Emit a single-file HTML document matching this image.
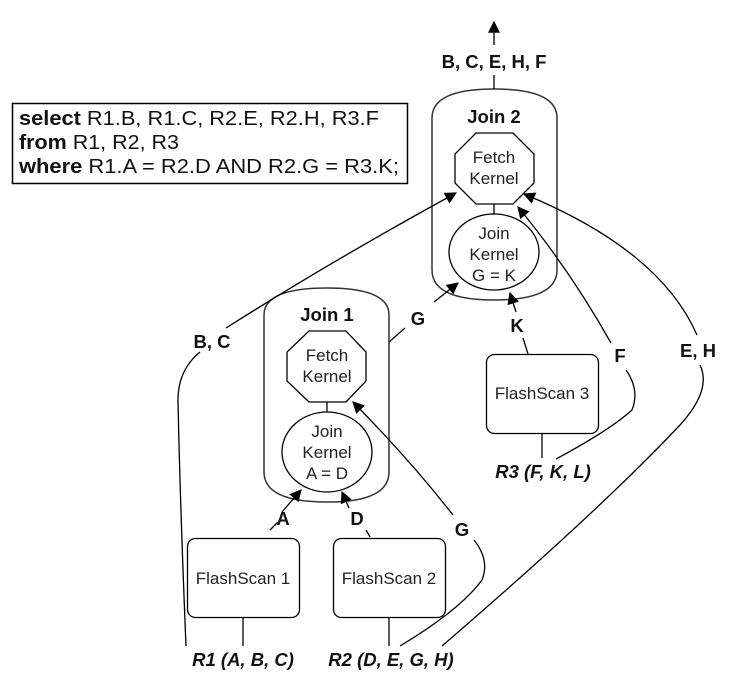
<!DOCTYPE html>
<html><head><meta charset="utf-8"><style>
html,body{margin:0;padding:0;background:#fff;}
svg{display:block;font-family:"Liberation Sans",Arial,sans-serif;}
.n{font-size:17px;fill:#222;text-anchor:middle;}
.b{font-size:18.5px;font-weight:bold;fill:#111;text-anchor:middle;}
.bi{font-size:18.5px;font-weight:bold;font-style:italic;fill:#111;text-anchor:middle;}
</style></head><body>
<svg width="734" height="673" viewBox="0 0 734 673" xmlns="http://www.w3.org/2000/svg">
<defs>
<marker id="A" viewBox="0 0 10 10" refX="9" refY="5" markerWidth="14" markerHeight="12" orient="auto" markerUnits="userSpaceOnUse"><path d="M0,0 L10,5 L0,10 z" fill="#000"/></marker></defs>
<g fill="none" stroke="#000" stroke-width="1.3">
<rect x="12.5" y="103.5" width="395" height="80" stroke-width="1.5"/>
<path d="M432,270 L432,118 Q432,89 494,89 Q557,89 557,118 L557,270 Q557,300 494,300 Q432,300 432,270 Z" stroke="#333" stroke-width="1.5"/>
<polygon points="476,133 513,133 534,154 534,183 513,204 476,204 455,183 455,154"/>
<line x1="494" y1="204" x2="494" y2="214"/>
<ellipse cx="494" cy="252" rx="45" ry="38"/>
<line x1="494" y1="89" x2="494" y2="75"/>
<line x1="494" y1="45" x2="494" y2="22" marker-end="url(#A)"/>
<path d="M264,315 Q264,288 327,288 Q389,288 389,315 L389,472 Q389,502 327,502 Q264,502 264,472 Z" stroke="#333" stroke-width="1.5"/>
<polygon points="309,331 346,331 366,352 366,381 346,402 309,402 287,381 287,352"/>
<line x1="327" y1="402" x2="327" y2="412"/>
<ellipse cx="327" cy="452" rx="45" ry="40"/>
<rect x="187.5" y="538.5" width="112" height="79" rx="8"/>
<rect x="333.5" y="538.5" width="112" height="79" rx="8"/>
<rect x="486.5" y="354.5" width="112" height="79" rx="8"/>
<line x1="243" y1="617" x2="243" y2="646"/>
<line x1="389" y1="617" x2="389" y2="646"/>
<line x1="542" y1="433" x2="542" y2="458"/>
<line x1="270" y1="530" x2="278" y2="522"/>
<line x1="282" y1="512" x2="301" y2="490" marker-end="url(#A)"/>
<line x1="366" y1="530" x2="370" y2="537"/>
<line x1="349" y1="508" x2="342" y2="492" marker-end="url(#A)"/>
<line x1="389" y1="342" x2="405" y2="328"/>
<line x1="434" y1="302" x2="458" y2="283" marker-end="url(#A)"/>
<line x1="528" y1="354" x2="523" y2="338"/>
<line x1="516" y1="312" x2="510" y2="293" marker-end="url(#A)"/>
<path d="M226,328 Q330,262 456,193" marker-end="url(#A)"/>
<path d="M186,646 Q180,500 178,400 Q178,370 200,352"/>
<path d="M442,646 Q600,510 680,425 Q712,390 700,365"/>
<path d="M697,335 Q660,250 524,194" marker-end="url(#A)"/>
<path d="M556,459 Q610,430 632,410 Q640,390 626,370"/>
<path d="M611,343 Q570,270 518,207" marker-end="url(#A)"/>
<path d="M400,646 Q460,610 482,580 Q490,560 474,540"/>
<path d="M453,515 Q410,460 353,402" marker-end="url(#A)"/>
</g>
<text x="19" y="125" font-size="20" fill="#111" textLength="360" lengthAdjust="spacingAndGlyphs"><tspan font-weight="bold">select</tspan> R1.B, R1.C, R2.E, R2.H, R3.F</text>
<text x="19" y="149" font-size="20" fill="#111" textLength="160" lengthAdjust="spacingAndGlyphs"><tspan font-weight="bold">from</tspan> R1, R2, R3</text>
<text x="19" y="173" font-size="20" fill="#111" textLength="380" lengthAdjust="spacingAndGlyphs"><tspan font-weight="bold">where</tspan> R1.A = R2.D AND R2.G = R3.K;</text>
<text x="494" y="68" class="b">B, C, E, H, F</text>
<text x="494" y="123" class="b" font-size="20">Join 2</text>
<text x="494" y="163" class="n">Fetch</text>
<text x="494" y="184" class="n">Kernel</text>
<text x="494" y="239" class="n">Join</text>
<text x="494" y="260" class="n">Kernel</text>
<text x="494" y="281" class="n">G = K</text>
<text x="327" y="321" class="b" font-size="20">Join 1</text>
<text x="327" y="361" class="n">Fetch</text>
<text x="327" y="382" class="n">Kernel</text>
<text x="327" y="437" class="n">Join</text>
<text x="327" y="458" class="n">Kernel</text>
<text x="327" y="479" class="n">A = D</text>
<text x="243" y="584" class="n">FlashScan 1</text>
<text x="389" y="584" class="n">FlashScan 2</text>
<text x="542" y="399" class="n">FlashScan 3</text>
<text x="243" y="666" class="bi">R1 (A, B, C)</text>
<text x="391" y="666" class="bi">R2 (D, E, G, H)</text>
<text x="543" y="478" class="bi">R3 (F, K, L)</text>
<text x="212" y="348" class="b">B, C</text>
<text x="418" y="325" class="b">G</text>
<text x="517" y="332" class="b">K</text>
<text x="283" y="525" class="b">A</text>
<text x="357" y="525" class="b">D</text>
<text x="620" y="362" class="b">F</text>
<text x="698" y="357" class="b">E, H</text>
<text x="462" y="536" class="b">G</text>
</svg>
</body></html>
